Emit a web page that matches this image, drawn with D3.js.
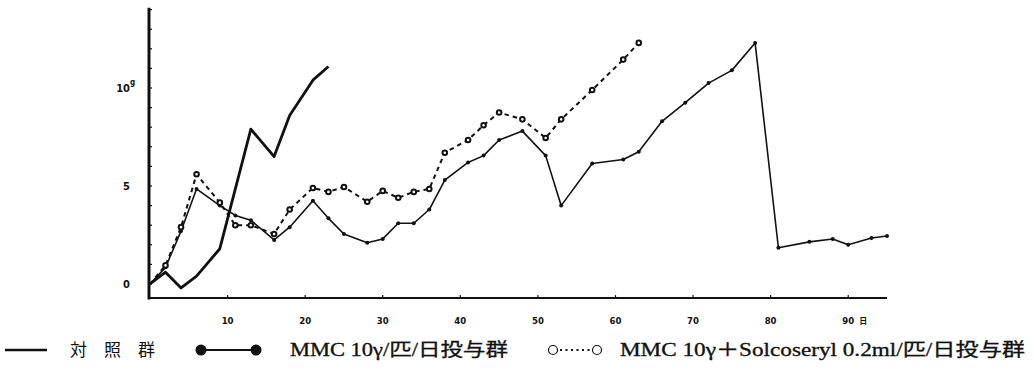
<!DOCTYPE html>
<html>
<head>
<meta charset="utf-8">
<script src="https://cdn.jsdelivr.net/npm/d3@7/dist/d3.min.js"></script>
<style>
  html, body { margin: 0; padding: 0; background: #fff; }
  svg { display: block; }
  .tick-label { font-family: "DejaVu Sans Condensed", "DejaVu Sans", sans-serif; font-weight: bold; font-size: 9.5px; fill: #111; }
  .legend-text { font-family: "Liberation Serif", "Noto Sans CJK JP", serif; font-size: 18px; fill: #111; stroke: #111; stroke-width: 0.3px; }
  .legend-cjk { font-family: "Noto Sans CJK JP", sans-serif; font-size: 17px; fill: #111; }
</style>
</head>
<body>
<svg id="chart" width="1035" height="369"></svg>
<script>
// Control group (thick solid line)
const controlDays   = [0, 2, 4, 6, 9, 13, 16, 18, 21, 23];
const controlValues = [0, 0.6, -0.2, 0.4, 1.8, 7.9, 6.5, 8.6, 10.4, 11.1];

// MMC 10γ/匹/日 group (thin solid line, filled dots)
const mmcDays   = [0, 2, 4, 6, 9, 11, 13, 16, 18, 21, 23, 25, 28, 30, 32, 34, 36, 38, 41, 43, 45, 48, 51, 53, 57, 61, 63, 66, 69, 72, 75, 78, 81, 85, 88, 90, 93, 95];
const mmcValues = [0, 0.85, 2.7, 4.85, 4.0, 3.5, 3.25, 2.25, 2.9, 4.25, 3.35, 2.55, 2.1, 2.3, 3.1, 3.1, 3.8, 5.3, 6.2, 6.55, 7.35, 7.8, 6.55, 4.0, 6.15, 6.35, 6.75, 8.3, 9.25, 10.25, 10.9, 12.3, 1.85, 2.15, 2.3, 2.0, 2.35, 2.45];

// MMC 10γ + Solcoseryl 0.2ml/匹/日 group (dotted line, open circles)
const solDays   = [0, 2, 4, 6, 9, 11, 13, 16, 18, 21, 23, 25, 28, 30, 32, 34, 36, 38, 41, 43, 45, 48, 51, 53, 57, 61, 63];
const solValues = [0, 0.95, 2.9, 5.6, 4.15, 3.0, 3.0, 2.55, 3.8, 4.9, 4.7, 4.95, 4.2, 4.75, 4.4, 4.7, 4.85, 6.7, 7.35, 8.1, 8.75, 8.4, 7.45, 8.4, 9.9, 11.45, 12.3];

// Axis tick labels
const xTickValues = [10, 20, 30, 40, 50, 60, 70, 80, 90];
const yTickValues = [0, 5, 10];
const yMinorTicks = [0, 1, 2, 3, 4, 5, 6, 7, 8, 9, 10, 11, 12, 13, 14];

const svg = d3.select("#chart");

const x = d3.scaleLinear().domain([0, 95]).range([150, 887]);
const y = d3.scaleLinear().domain([0, 10]).range([284, 88]);

const axisX0 = 149;            // x of the vertical axis
const axisY0 = y(-0.72);       // y of the horizontal axis
const axisTop = y(14.1);
const axisRight = x(95);

// Axes
svg.append("line")
  .attr("x1", axisX0).attr("x2", axisX0)
  .attr("y1", axisTop).attr("y2", axisY0 + 1.5)
  .attr("stroke", "#111").attr("stroke-width", 3);
svg.append("line")
  .attr("x1", axisX0 - 1).attr("x2", axisRight)
  .attr("y1", axisY0).attr("y2", axisY0)
  .attr("stroke", "#111").attr("stroke-width", 2);

// small ticks on the y axis
svg.selectAll("line.ytick").data(yMinorTicks).enter().append("line")
  .attr("class", "ytick")
  .attr("x1", axisX0).attr("x2", axisX0 + 3)
  .attr("y1", d => y(d)).attr("y2", d => y(d))
  .attr("stroke", "#111").attr("stroke-width", 1.2);

// small ticks on the x axis
svg.selectAll("line.xtick").data(xTickValues).enter().append("line")
  .attr("class", "xtick")
  .attr("x1", d => x(d)).attr("x2", d => x(d))
  .attr("y1", axisY0).attr("y2", axisY0 - 3)
  .attr("stroke", "#111").attr("stroke-width", 1.2);

// x tick labels
svg.selectAll("text.xl").data(xTickValues).enter().append("text")
  .attr("class", "tick-label xl")
  .attr("x", d => x(d)).attr("y", 324)
  .attr("text-anchor", "middle")
  .text(d => d);
svg.append("text").attr("class", "tick-label")
  .attr("x", x(90) + 11).attr("y", 324)
  .style("font-family", "Noto Sans CJK JP").style("font-size", "8px")
  .text("日");

// y tick labels
svg.selectAll("text.yl").data(yTickValues).enter().append("text")
  .attr("class", "tick-label yl")
  .attr("x", 130).attr("y", d => y(d) + 4)
  .attr("text-anchor", "end")
  .style("font-size", "11px")
  .text(d => d);
svg.append("text").attr("class", "tick-label")
  .attr("x", 130).attr("y", y(10) - 3)
  .style("font-size", "8px")
  .text("g");

// Series
const line = d3.line().x(d => x(d[0])).y(d => y(d[1]));
const control = controlDays.map((d, i) => [d, controlValues[i]]);
const mmc = mmcDays.map((d, i) => [d, mmcValues[i]]);
const sol = solDays.map((d, i) => [d, solValues[i]]);

svg.append("path").datum(sol)
  .attr("d", line).attr("fill", "none")
  .attr("stroke", "#111").attr("stroke-width", 2)
  .attr("stroke-dasharray", "4.5,4");

svg.append("path").datum(mmc)
  .attr("d", line).attr("fill", "none")
  .attr("stroke", "#111").attr("stroke-width", 1.6)
  .attr("stroke-linejoin", "round");

svg.append("path").datum(control)
  .attr("d", line).attr("fill", "none")
  .attr("stroke", "#111").attr("stroke-width", 2.8)
  .attr("stroke-linejoin", "round");

svg.selectAll("circle.mmc").data(mmc.slice(1)).enter().append("circle")
  .attr("class", "mmc")
  .attr("cx", d => x(d[0])).attr("cy", d => y(d[1]))
  .attr("r", 2).attr("fill", "#111");

svg.selectAll("circle.sol").data(sol.slice(1)).enter().append("circle")
  .attr("class", "sol")
  .attr("cx", d => x(d[0])).attr("cy", d => y(d[1]))
  .attr("r", 2.3).attr("fill", "#fff")
  .attr("stroke", "#111").attr("stroke-width", 2);

// Legend
const ly = 350;
svg.append("line").attr("x1", 5).attr("x2", 47).attr("y1", ly).attr("y2", ly)
  .attr("stroke", "#111").attr("stroke-width", 2.5);
svg.append("text").attr("class", "legend-cjk")
  .attr("x", 70).attr("y", ly + 6)
  .attr("letter-spacing", "17px")
  .text("対照群");

svg.append("circle").attr("cx", 201).attr("cy", ly).attr("r", 5.5).attr("fill", "#111");
svg.append("line").attr("x1", 205).attr("x2", 252).attr("y1", ly).attr("y2", ly)
  .attr("stroke", "#111").attr("stroke-width", 2);
svg.append("circle").attr("cx", 256).attr("cy", ly).attr("r", 5.5).attr("fill", "#111");
svg.append("text").attr("class", "legend-text")
  .attr("x", 290).attr("y", ly + 6)
  .attr("textLength", 218).attr("lengthAdjust", "spacingAndGlyphs")
  .text("MMC 10γ/匹/日投与群");

svg.append("circle").attr("cx", 553).attr("cy", ly).attr("r", 4.5)
  .attr("fill", "#fff").attr("stroke", "#111").attr("stroke-width", 1.2);
svg.append("line").attr("x1", 560).attr("x2", 591).attr("y1", ly).attr("y2", ly)
  .attr("stroke", "#111").attr("stroke-width", 2).attr("stroke-dasharray", "2,3.5");
svg.append("circle").attr("cx", 597).attr("cy", ly).attr("r", 4.5)
  .attr("fill", "#fff").attr("stroke", "#111").attr("stroke-width", 1.2);
svg.append("text").attr("class", "legend-text")
  .attr("x", 620).attr("y", ly + 6)
  .attr("textLength", 405).attr("lengthAdjust", "spacingAndGlyphs")
  .text("MMC 10γ＋Solcoseryl 0.2ml/匹/日投与群");
</script>
</body>
</html>
